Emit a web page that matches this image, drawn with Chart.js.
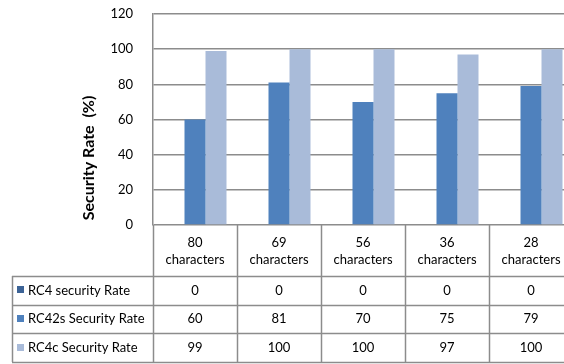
<!DOCTYPE html>
<html>
<head>
<meta charset="utf-8">
<script src="https://cdn.jsdelivr.net/npm/chart.js@4.4.1/dist/chart.umd.min.js"></script>
<style>
  html, body { margin: 0; padding: 0; background: #fff; overflow: hidden; }
  #wrap { width: 580px; height: 364px; }
</style>
</head>
<body>
<div id="wrap"><canvas id="c" width="580" height="364"></canvas></div>
<script>
// Message lengths on the category axis (two text lines each)
const categories = [
  ['80', 'characters'],
  ['69', 'characters'],
  ['56', 'characters'],
  ['36', 'characters'],
  ['28', 'characters']
];

// Security rate per cipher variant (%)
const seriesNames = ['RC4 security Rate', 'RC42s Security Rate', 'RC4c Security Rate'];
const rc4Rate   = [0, 0, 0, 0, 0];
const rc42sRate = [60, 81, 70, 75, 79];
const rc4cRate  = [99, 100, 100, 97, 100];

const yTicks = [0, 20, 40, 60, 80, 100, 120];
const yTitle = 'Security Rate  (%)';

const seriesColors = ['#3c6396', '#4f81bd', '#a9bbd9'];
const FONT = 'Lato, "Open Sans", sans-serif';
const LINE = '#8c8c8c';

// Rotated value-axis title, centred over the plot plus the table header
const yTitlePlugin = {
  id: 'yTitle',
  afterDraw(chart) {
    const ctx = chart.ctx;
    const area = chart.chartArea;
    ctx.save();
    ctx.translate(88.5, (area.top + area.bottom + 77) / 2);
    ctx.rotate(-Math.PI / 2);
    ctx.font = 'bold 16px ' + FONT;
    ctx.fillStyle = '#000';
    ctx.textAlign = 'center';
    ctx.textBaseline = 'middle';
    ctx.fillText(yTitle, 0, 0);
    ctx.restore();
  }
};

// Data table drawn under the plot, one column per category
const dataTablePlugin = {
  id: 'dataTable',
  afterDraw(chart) {
    const ctx = chart.ctx;
    const xs = chart.scales.x;
    const area = chart.chartArea;
    const series = [rc4Rate, rc42sRate, rc4cRate];
    const colW = xs.getPixelForValue(1) - xs.getPixelForValue(0);
    const top = area.bottom;
    const headerBottom = top + 51;
    const rowH = 28.7;
    const tableBottom = headerBottom + rowH * series.length;
    const legendLeft = 12;
    const lastRight = xs.getPixelForValue(categories.length - 1) + colW / 2;

    ctx.save();
    ctx.strokeStyle = LINE;
    ctx.lineWidth = 1.5;

    // vertical borders between columns
    for (let i = 0; i <= categories.length; i++) {
      const x = Math.round(xs.getPixelForValue(i) - colW / 2) + 0.5;
      ctx.beginPath();
      ctx.moveTo(x, top);
      ctx.lineTo(x, tableBottom);
      ctx.stroke();
    }
    // left border of legend column
    ctx.beginPath();
    ctx.moveTo(legendLeft + 0.5, headerBottom);
    ctx.lineTo(legendLeft + 0.5, tableBottom);
    ctx.stroke();
    // horizontal row borders
    for (let r = 0; r <= series.length; r++) {
      const y = Math.round(headerBottom + r * rowH) + 0.5;
      ctx.beginPath();
      ctx.moveTo(legendLeft, y);
      ctx.lineTo(lastRight, y);
      ctx.stroke();
    }

    ctx.fillStyle = '#000';
    ctx.font = '13px ' + FONT;
    ctx.textAlign = 'center';
    ctx.textBaseline = 'middle';

    // category header cells
    categories.forEach((lines, i) => {
      const cx = xs.getPixelForValue(i);
      lines.forEach((t, k) => {
        ctx.fillText(t, cx, top + 18 + k * 17);
      });
    });

    // value rows
    series.forEach((vals, r) => {
      const cy = headerBottom + r * rowH + rowH / 2;
      vals.forEach((v, i) => {
        ctx.fillText(String(v), xs.getPixelForValue(i), cy);
      });
    });

    // legend cells
    ctx.textAlign = 'left';
    seriesNames.forEach((name, r) => {
      const cy = headerBottom + r * rowH + rowH / 2;
      ctx.fillStyle = seriesColors[r];
      ctx.fillRect(17, Math.round(cy - 4), 7, 7);
      ctx.fillStyle = '#000';
      ctx.fillText(name, 28, cy);
    });
    ctx.restore();
  }
};

new Chart(document.getElementById('c'), {
  type: 'bar',
  data: {
    labels: categories,
    datasets: [
      { label: seriesNames[0], data: rc4Rate, backgroundColor: seriesColors[0] },
      { label: seriesNames[1], data: rc42sRate, backgroundColor: seriesColors[1] },
      { label: seriesNames[2], data: rc4cRate, backgroundColor: seriesColors[2] }
    ]
  },
  options: {
    responsive: false,
    animation: false,
    events: [],
    layout: { padding: { left: 0, right: 7, top: 14, bottom: 139 } },
    datasets: { bar: { categoryPercentage: 0.75, barPercentage: 1.0 } },
    plugins: { legend: { display: false }, tooltip: { enabled: false } },
    scales: {
      x: {
        display: false,
        offset: true
      },
      y: {
        min: 0,
        max: 120,
        afterBuildTicks(scale) { scale.ticks = yTicks.map(v => ({ value: v })); },
        afterFit(scale) {
          scale.width = 153;
          scale.paddingTop = 0;
          scale.paddingBottom = 0;
        },
        border: { display: true, color: LINE, width: 1.5 },
        grid: { color: LINE, lineWidth: 1.5, drawTicks: false },
        ticks: { padding: 20, color: '#000', font: { family: FONT, size: 13 } },
        title: { display: false }
      }
    }
  },
  plugins: [dataTablePlugin, yTitlePlugin]
});
</script>
</body>
</html>
